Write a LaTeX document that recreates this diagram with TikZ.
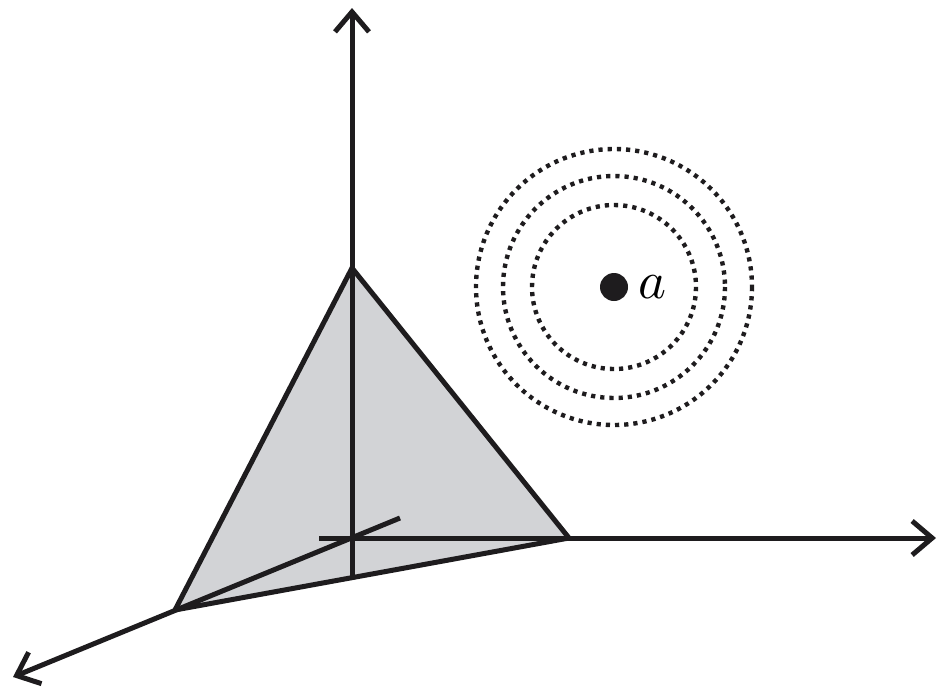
\documentclass[tikz,border=0pt]{standalone}
\usetikzlibrary{arrows.meta}
\definecolor{facegray}{RGB}{210,211,214}
\definecolor{ink}{RGB}{30,28,30}
\tikzset{
  axis/.style={draw=ink,line width=5pt,-{Straight Barb[length=20pt,width=34pt,line width=5pt]}},
  edge/.style={draw=ink,line width=5pt,line join=miter},
  ring/.style={draw=ink,line width=4.4pt,dash pattern=on 4.2pt off 5pt},
}
\begin{document}
\begin{tikzpicture}[x=1pt,y=-1pt]
\useasboundingbox (0,0) rectangle (940,689);
\coordinate (O) at (352,538);
\coordinate (T) at (352,268);
\coordinate (R) at (569,538);
\coordinate (L) at (175,610);
\coordinate (ztip) at (352,8);
\coordinate (zend) at (352,578);
\coordinate (xtip) at (936,538);
\coordinate (xend) at (319,538);
\coordinate (ytip) at (13,677);
\coordinate (yend) at (400,518);
\coordinate (C) at (614,287);
\fill[facegray] (T) -- (R) -- (L) -- cycle;
\draw[axis] (zend) -- (ztip);
\draw[axis] (xend) -- (xtip);
\draw[axis] (yend) -- (ytip);
\draw[edge] (T) -- (R) -- (L) -- cycle;
\draw[ring] (C) circle[radius=82];
\draw[ring] (C) circle[radius=111];
\draw[ring] (C) circle[radius=138];
\fill[ink] (C) circle[radius=14];
\node[inner sep=0pt,anchor=west,scale=5.3] (lab) at (637,287) {$a$};
\end{tikzpicture}
\end{document}
